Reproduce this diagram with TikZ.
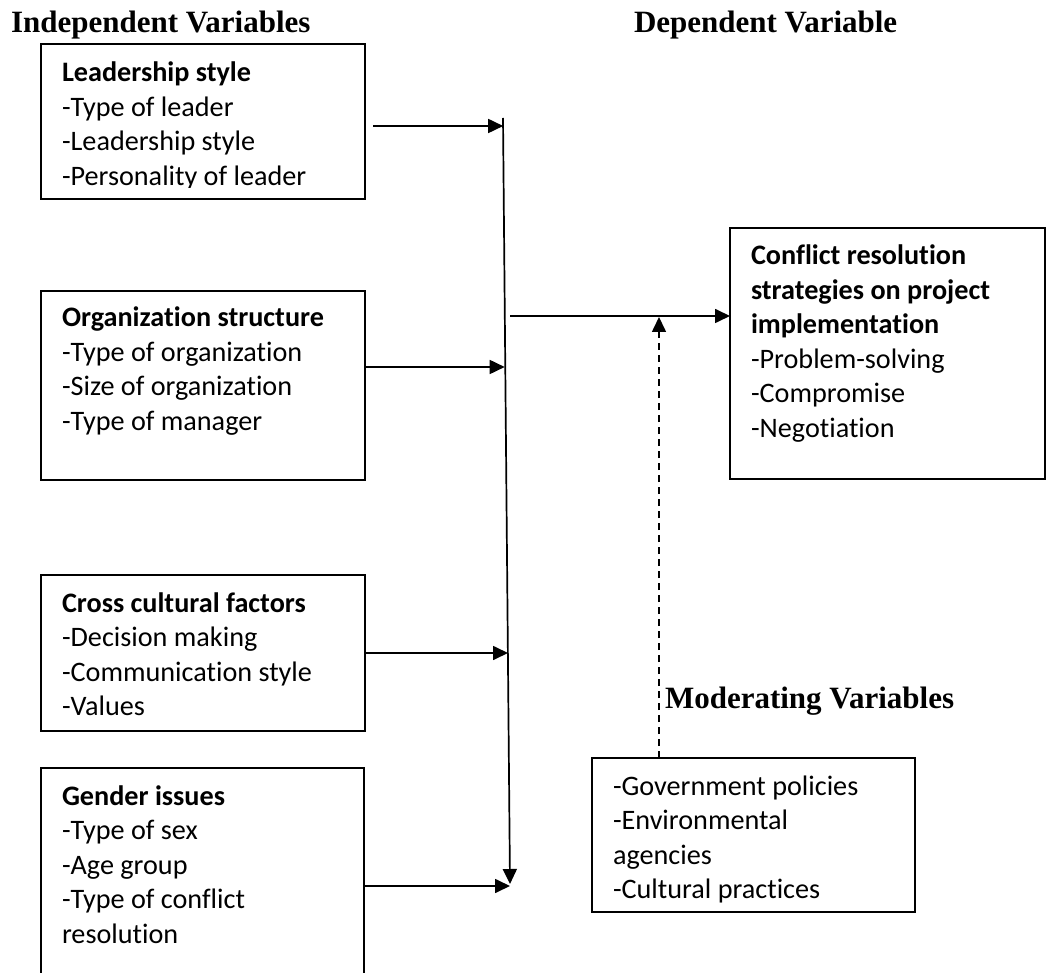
\documentclass[tikz,border=0pt]{standalone}
\usepackage{fontspec}
\setmainfont[RawFeature=-liga]{Carlito}
\newfontfamily\hdrfont{Liberation Serif}
\usetikzlibrary{arrows.meta}
\begin{document}
\begin{tikzpicture}[x=1pt,y=-1pt,
  box/.style={draw, line width=1.9pt, rectangle, anchor=north west, inner sep=0pt, outer sep=0pt},
  txt/.style={anchor=base west, inner sep=0pt, outer sep=0pt, font=\fontsize{28.2}{34.5}\selectfont},
  hdr/.style={anchor=base west, inner sep=0pt, outer sep=0pt, font=\hdrfont\bfseries\fontsize{31}{37}\selectfont},
  arr/.style={line width=1.7pt, -{Triangle[length=15pt,width=14pt]}},
  darr/.style={line width=1.6pt, dash pattern=on 7pt off 5pt, -{Triangle[length=15pt,width=14pt]}}
]
\clip (0,0) rectangle (1052,973);
\fill[white] (0,0) rectangle (1052,973);

% headers
\node[hdr] (hiv) at (11,33) {Independent Variables};
\node[hdr] (hdv) at (634,33) {Dependent Variable};
\node[hdr] (hmv) at (665,708) {Moderating Variables};

% box 1
\node[box, minimum width=324pt, minimum height=155pt] (b1) at (41,44) {};
\begin{scope}
\clip (41,44) rectangle (365,187.5);
\node[txt] (t1) at (62,82) {\begin{tabular}[t]{@{}l@{}}\textbf{Leadership style}\\-Type of leader\\-Leadership style\\-Personality of leader\end{tabular}};
\end{scope}

% box 2
\node[box, minimum width=324pt, minimum height=189pt] (b2) at (41,291) {};
\node[txt] (t2) at (62,327) {\begin{tabular}[t]{@{}l@{}}\textbf{Organization structure}\\-Type of organization\\-Size of organization\\-Type of manager\end{tabular}};

% box 3
\node[box, minimum width=324pt, minimum height=156pt] (b3) at (41,575) {};
\node[txt] (t3) at (62,612) {\begin{tabular}[t]{@{}l@{}}\textbf{Cross cultural factors}\\-Decision making\\-Communication style\\-Values\end{tabular}};

% box 4
\node[box, minimum width=323pt, minimum height=240pt] (b4) at (41,768) {};
\node[txt] (t4) at (62,805) {\begin{tabular}[t]{@{}l@{}}\textbf{Gender issues}\\-Type of sex\\-Age group\\-Type of conflict\\resolution\end{tabular}};

% dependent box
\node[box, minimum width=315pt, minimum height=251pt] (dv) at (730,228) {};
\node[txt] (tdv) at (751,265) {\begin{tabular}[t]{@{}l@{}}\textbf{Conflict resolution}\\\textbf{strategies on project}\\\textbf{implementation}\\-Problem-solving\\-Compromise\\-Negotiation\end{tabular}};

% moderating box
\node[box, minimum width=323pt, minimum height=154pt] (mv) at (592,758) {};
\begin{scope}
\clip (592,758) rectangle (915,902.5);
\node[txt] (tmv) at (613,795) {\begin{tabular}[t]{@{}l@{}}-Government policies\\-Environmental\\agencies\\-Cultural practices\end{tabular}};
\end{scope}

% connectors
\coordinate (vtop) at (503,118);
\coordinate (vbot) at (510,884);
\draw[arr] (vtop) -- (vbot);

\coordinate (a1s) at (373,126);
\coordinate (a1e) at (503.2,126);
\draw[arr] (a1s) -- (a1e);

\coordinate (a2s) at (365,367);
\coordinate (a2e) at (504.7,367);
\draw[arr] (a2s) -- (a2e);

\coordinate (a3s) at (365,653);
\coordinate (a3e) at (508,653);
\draw[arr] (a3s) -- (a3e);

\coordinate (a4s) at (364,886);
\coordinate (a4e) at (510,886);
\draw[arr] (a4s) -- (a4e);

\coordinate (dvs) at (510,316);
\coordinate (dve) at (730,316);
\draw[arr] (dvs) -- (dve);

\coordinate (mvs) at (659,758);
\coordinate (mve) at (659,317);
\draw[darr] (mvs) -- (mve);
\end{tikzpicture}
\end{document}
